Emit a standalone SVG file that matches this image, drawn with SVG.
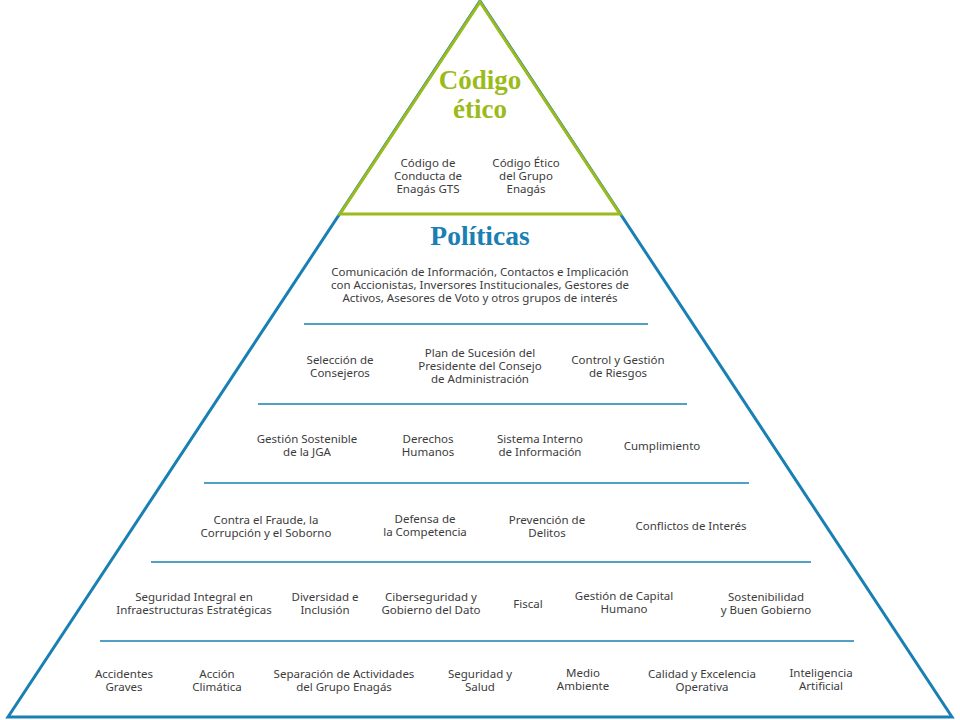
<svg xmlns="http://www.w3.org/2000/svg" width="960" height="720" viewBox="0 0 960 720">
<style>
.t{font-family:"Noto Sans","Liberation Sans",sans-serif;font-size:11.5px;fill:#3c3c3c;text-anchor:middle}
.sep{stroke:#1a80b4;stroke-width:1.5}
.h{font-family:"Liberation Serif",serif;font-weight:bold;text-anchor:middle}
</style>
<rect width="960" height="720" fill="#fff"/>
<g id="outer"><polygon points="480,1 952,717 8,717" fill="none" stroke="#1a80b4" stroke-width="3"/></g>
<g id="codigo">
<polygon points="480,2 620,214 340,214" fill="none" stroke="#9bbb1a" stroke-width="3"/>
<text class="h" x="480" y="89" font-size="27" fill="#9bbb1a">Código</text>
<text class="h" x="480" y="118" font-size="27" fill="#9bbb1a">ético</text>
<text class="t" x="428" y="167">Código de</text><text class="t" x="428" y="180">Conducta de</text><text class="t" x="428" y="193">Enagás GTS</text>
<text class="t" x="526" y="167">Código Ético</text><text class="t" x="526" y="180">del Grupo</text><text class="t" x="526" y="193">Enagás</text>
</g>
<g id="politicas">
<text class="h" x="480" y="245" font-size="27.5" fill="#1a80b4">Políticas</text>
<text class="t" x="480" y="276">Comunicación de Información, Contactos e Implicación</text>
<text class="t" x="480" y="289">con Accionistas, Inversores Institucionales, Gestores de</text>
<text class="t" x="480" y="302">Activos, Asesores de Voto y otros grupos de interés</text>
</g>
<g id="connectors">
<line class="sep" x1="304" y1="324" x2="648" y2="324"/>
<line class="sep" x1="258" y1="404" x2="687" y2="404"/>
<line class="sep" x1="204" y1="483" x2="749" y2="483"/>
<line class="sep" x1="151" y1="562" x2="811" y2="562"/>
<line class="sep" x1="100" y1="641" x2="854" y2="641"/>
</g>
<g id="row2">
<text class="t" x="340" y="364">Selección de</text><text class="t" x="340" y="377">Consejeros</text>
<text class="t" x="480" y="357">Plan de Sucesión del</text><text class="t" x="480" y="370">Presidente del Consejo</text><text class="t" x="480" y="383">de Administración</text>
<text class="t" x="618" y="364">Control y Gestión</text><text class="t" x="618" y="377">de Riesgos</text>
</g>
<g id="row3">
<text class="t" x="307" y="443">Gestión Sostenible</text><text class="t" x="307" y="456">de la JGA</text>
<text class="t" x="428" y="443">Derechos</text><text class="t" x="428" y="456">Humanos</text>
<text class="t" x="540" y="443">Sistema Interno</text><text class="t" x="540" y="456">de Información</text>
<text class="t" x="662" y="450">Cumplimiento</text>
</g>
<g id="row4">
<text class="t" x="266" y="524">Contra el Fraude, la</text><text class="t" x="266" y="537">Corrupción y el Soborno</text>
<text class="t" x="425" y="523">Defensa de</text><text class="t" x="425" y="536">la Competencia</text>
<text class="t" x="547" y="524">Prevención de</text><text class="t" x="547" y="537">Delitos</text>
<text class="t" x="691" y="530">Conflictos de Interés</text>
</g>
<g id="row5">
<text class="t" x="194" y="601">Seguridad Integral en</text><text class="t" x="194" y="614">Infraestructuras Estratégicas</text>
<text class="t" x="325" y="601">Diversidad e</text><text class="t" x="325" y="614">Inclusión</text>
<text class="t" x="431" y="601">Ciberseguridad y</text><text class="t" x="431" y="614">Gobierno del Dato</text>
<text class="t" x="528" y="608">Fiscal</text>
<text class="t" x="624" y="600">Gestión de Capital</text><text class="t" x="624" y="613">Humano</text>
<text class="t" x="766" y="601">Sostenibilidad</text><text class="t" x="766" y="614">y Buen Gobierno</text>
</g>
<g id="row6">
<text class="t" x="124" y="678">Accidentes</text><text class="t" x="124" y="691">Graves</text>
<text class="t" x="217" y="678">Acción</text><text class="t" x="217" y="691">Climática</text>
<text class="t" x="344" y="678">Separación de Actividades</text><text class="t" x="344" y="691">del Grupo Enagás</text>
<text class="t" x="480" y="678">Seguridad y</text><text class="t" x="480" y="691">Salud</text>
<text class="t" x="583" y="677">Medio</text><text class="t" x="583" y="690">Ambiente</text>
<text class="t" x="702" y="678">Calidad y Excelencia</text><text class="t" x="702" y="691">Operativa</text>
<text class="t" x="821" y="677">Inteligencia</text><text class="t" x="821" y="690">Artificial</text>
</g>
</svg>
